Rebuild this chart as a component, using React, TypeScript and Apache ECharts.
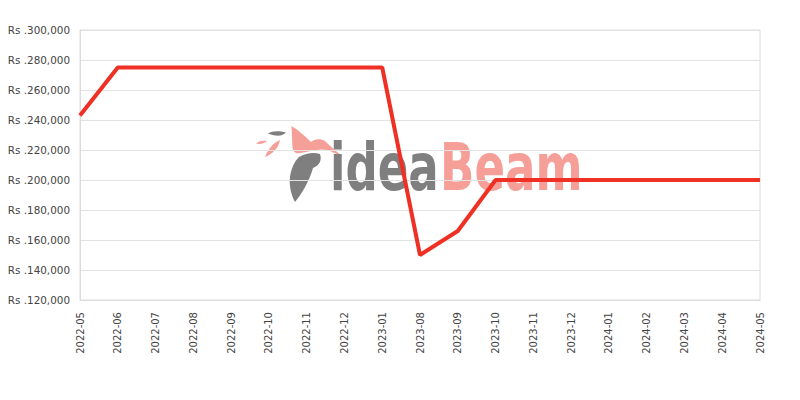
import React, { useEffect, useRef } from "react";
import * as echarts from "echarts";

const categories = [
  "2022-05", "2022-06", "2022-07", "2022-08", "2022-09", "2022-10", "2022-11", "2022-12",
  "2023-01", "2023-08", "2023-09", "2023-10", "2023-11", "2023-12",
  "2024-01", "2024-02", "2024-03", "2024-04", "2024-05",
];
const prices = [
  243000, 275000, 275000, 275000, 275000, 275000, 275000, 275000,
  275000, 150000, 166000, 200000, 200000, 200000,
  200000, 200000, 200000, 200000, 200000,
];
const yMin = 120000;
const yMax = 300000;
const yInterval = 20000;

const birdWing = "M291.5,126 C298,130 305,136 311,142 C314,139 320,138 325,141 C330,146 337,152 343,157 C336,154 331,151 327,150 C318,148 308,152 300,153 C296,154 293,152 292.5,148 Z";
const feather = "M299,157 C306,153 314,152 320,154 C322,160 320,165 313,168 C309,182 301,195 295,202 C291,195 289,185 290,177 C291,169 294,162 299,157 Z";
const grayLeaf = "M268,133.5 C272,131 278,130.5 286,132.5 C283,136 277,137 268,133.5 Z";
const pinkLeaf1 = "M256,143.5 C259,141 263,140.5 267,141 C264,143.5 260,144.5 256,143.5 Z";
const pinkLeaf2 = "M265,157 C268,149 273,143 280,140 C279,147 273,154 265,157 Z";

echarts.graphic.registerShape("birdWing", echarts.graphic.extendPath(birdWing, {}));
echarts.graphic.registerShape("feather", echarts.graphic.extendPath(feather, {}));
echarts.graphic.registerShape("grayLeaf", echarts.graphic.extendPath(grayLeaf, {}));
echarts.graphic.registerShape("pinkLeaf1", echarts.graphic.extendPath(pinkLeaf1, {}));
echarts.graphic.registerShape("pinkLeaf2", echarts.graphic.extendPath(pinkLeaf2, {}));

export default function App() {
  const ref = useRef<HTMLDivElement>(null);
  useEffect(() => {
    if (!ref.current) return;
    const chart = echarts.init(ref.current, null, { renderer: "svg" });
    const pink = "#f59f98";
    const gray = "#7f7f7f";
    const wmFont = "bold 66px 'DejaVu Sans Condensed'";
    chart.setOption({
      animation: false,
      grid: {
        left: 72, right: 48, top: 22, bottom: 108,
        show: true, borderColor: "#dcdcdc", borderWidth: 1,
        outerBoundsMode: "none", containLabel: false,
      },
      graphic: [
        { type: "grayLeaf", x: -8, y: -8, z: 0, style: { fill: gray } },
        { type: "pinkLeaf1", x: -8, y: -8, z: 0, style: { fill: pink } },
        { type: "pinkLeaf2", x: -8, y: -8, z: 0, style: { fill: pink } },
        { type: "feather", x: -8, y: -8, z: 0, style: { fill: gray } },
        { type: "birdWing", x: -8, y: -8, z: 0, style: { fill: pink } },
        {
          type: "text", x: 322, y: 192, z: 0, scaleX: 0.76,
          style: { text: "idea", fill: gray, font: wmFont, verticalAlign: "bottom" },
        },
        {
          type: "text", x: 432, y: 192, z: 0, scaleX: 0.76,
          style: { text: "Beam", fill: pink, font: wmFont, verticalAlign: "bottom" },
        },
      ],
      xAxis: {
        type: "category",
        data: categories,
        boundaryGap: false,
        axisLine: { lineStyle: { color: "#dcdcdc" } },
        axisTick: { show: false },
        axisLabel: { rotate: 90, color: "#444", fontSize: 10, fontFamily: "DejaVu Sans", margin: 12, interval: 0 },
        splitLine: { show: false },
      },
      yAxis: {
        type: "value",
        min: yMin,
        max: yMax,
        interval: yInterval,
        axisLine: { show: true, lineStyle: { color: "#dcdcdc" } },
        axisTick: { show: false },
        axisLabel: {
          color: "#444", fontSize: 10.4, fontFamily: "DejaVu Sans", margin: 10,
          formatter: (v: number) => "Rs ." + v.toLocaleString("en-US"),
        },
        splitLine: { lineStyle: { color: "#e3e3e3" } },
      },
      series: [
        {
          type: "line",
          data: prices,
          z: 5,
          symbol: "none",
          lineStyle: { color: "#ee3124", width: 4 },
        },
      ],
    });
    return () => chart.dispose();
  }, []);
  return <div ref={ref} style={{ width: 800, height: 400 }} />;
}
